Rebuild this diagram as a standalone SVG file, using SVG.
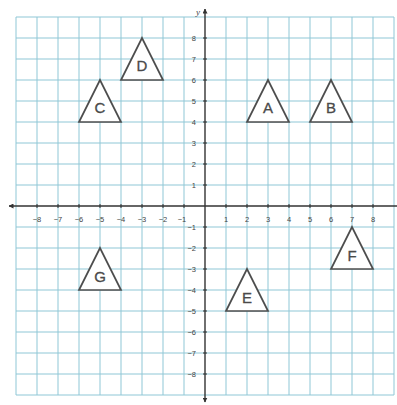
<svg xmlns="http://www.w3.org/2000/svg" width="397" height="405" viewBox="0 0 397 405">
<style>
.grid line{stroke:#8fc7d6;stroke-width:1}
.axis{stroke:#333;stroke-width:1.4;fill:none}
.tick{stroke:#333;stroke-width:1}
.num{font-family:"Liberation Sans",Arial,sans-serif;font-size:7.5px;fill:#444}
.tri{fill:#fff;stroke:#4d4d4d;stroke-width:1.7;stroke-linejoin:miter}
.lbl{font-family:"Liberation Sans",Arial,sans-serif;font-size:15px;fill:#4a4a4a;stroke:#4a4a4a;stroke-width:0.3;text-anchor:middle}
</style>
<defs>
<marker id="ah" viewBox="0 0 10 10" refX="9" refY="5" markerWidth="5" markerHeight="5" orient="auto-start-reverse" markerUnits="userSpaceOnUse">
<path d="M0,0 L10,5 L0,10 z" fill="#333"/>
</marker>
</defs>
<rect width="397" height="405" fill="#fff"/>
<g class="grid">
<line x1="16" y1="17" x2="16" y2="395"/><line x1="37" y1="17" x2="37" y2="395"/><line x1="58" y1="17" x2="58" y2="395"/><line x1="79" y1="17" x2="79" y2="395"/><line x1="100" y1="17" x2="100" y2="395"/><line x1="121" y1="17" x2="121" y2="395"/><line x1="142" y1="17" x2="142" y2="395"/><line x1="163" y1="17" x2="163" y2="395"/><line x1="184" y1="17" x2="184" y2="395"/><line x1="226" y1="17" x2="226" y2="395"/><line x1="247" y1="17" x2="247" y2="395"/><line x1="268" y1="17" x2="268" y2="395"/><line x1="289" y1="17" x2="289" y2="395"/><line x1="310" y1="17" x2="310" y2="395"/><line x1="331" y1="17" x2="331" y2="395"/><line x1="352" y1="17" x2="352" y2="395"/><line x1="373" y1="17" x2="373" y2="395"/><line x1="394" y1="17" x2="394" y2="395"/>
<line x1="16" y1="17" x2="394" y2="17"/><line x1="16" y1="38" x2="394" y2="38"/><line x1="16" y1="59" x2="394" y2="59"/><line x1="16" y1="80" x2="394" y2="80"/><line x1="16" y1="101" x2="394" y2="101"/><line x1="16" y1="122" x2="394" y2="122"/><line x1="16" y1="143" x2="394" y2="143"/><line x1="16" y1="164" x2="394" y2="164"/><line x1="16" y1="185" x2="394" y2="185"/><line x1="16" y1="227" x2="394" y2="227"/><line x1="16" y1="248" x2="394" y2="248"/><line x1="16" y1="269" x2="394" y2="269"/><line x1="16" y1="290" x2="394" y2="290"/><line x1="16" y1="311" x2="394" y2="311"/><line x1="16" y1="332" x2="394" y2="332"/><line x1="16" y1="353" x2="394" y2="353"/><line x1="16" y1="374" x2="394" y2="374"/><line x1="16" y1="395" x2="394" y2="395"/>
</g>
<g id="connectors">
<line class="axis" x1="397" y1="206" x2="9" y2="206" marker-end="url(#ah)"/>
<line class="axis" x1="205" y1="206" x2="205" y2="9" marker-end="url(#ah)"/>
<line class="axis" x1="205" y1="206" x2="205" y2="402" marker-end="url(#ah)"/>
</g>
<g id="ticks" class="tick">
<path d="M37,204v4M58,204v4M79,204v4M100,204v4M121,204v4M142,204v4M163,204v4M184,204v4M226,204v4M247,204v4M268,204v4M289,204v4M310,204v4M331,204v4M352,204v4M373,204v4"/>
<path d="M203,38h4M203,59h4M203,80h4M203,101h4M203,122h4M203,143h4M203,164h4M203,185h4M203,227h4M203,248h4M203,269h4M203,290h4M203,311h4M203,332h4M203,353h4M203,374h4"/>
</g>
<g id="x-labels" class="num" text-anchor="middle">
<text x="37" y="222">−8</text><text x="58" y="222">−7</text><text x="79" y="222">−6</text><text x="100" y="222">−5</text><text x="121" y="222">−4</text><text x="142" y="222">−3</text><text x="163" y="222">−2</text><text x="182" y="222">−1</text>
<text x="226" y="222">1</text><text x="247" y="222">2</text><text x="268" y="222">3</text><text x="289" y="222">4</text><text x="310" y="222">5</text><text x="331" y="222">6</text><text x="352" y="222">7</text><text x="373" y="222">8</text>
</g>
<g id="y-labels" class="num" text-anchor="end">
<text x="196" y="41">8</text><text x="196" y="62">7</text><text x="196" y="83">6</text><text x="196" y="104">5</text><text x="196" y="125">4</text><text x="196" y="146">3</text><text x="196" y="167">2</text><text x="196" y="188">1</text>
<text x="196" y="230">−1</text><text x="196" y="251">−2</text><text x="196" y="272">−3</text><text x="196" y="293">−4</text><text x="196" y="314">−5</text><text x="196" y="335">−6</text><text x="196" y="356">−7</text><text x="196" y="377">−8</text>
</g>
<text x="196" y="15" style="font-family:'Liberation Serif',serif;font-style:italic;font-size:9px;fill:#444">y</text>
<g id="A"><polygon class="tri" points="268,80 247,122 289,122"/><text class="lbl" x="268" y="113">A</text></g>
<g id="B"><polygon class="tri" points="331,80 310,122 352,122"/><text class="lbl" x="331" y="113">B</text></g>
<g id="C"><polygon class="tri" points="100,80 79,122 121,122"/><text class="lbl" x="100" y="113">C</text></g>
<g id="D"><polygon class="tri" points="142,38 121,80 163,80"/><text class="lbl" x="142" y="71">D</text></g>
<g id="E"><polygon class="tri" points="247,269 226,311 268,311"/><text class="lbl" x="247" y="303">E</text></g>
<g id="F"><polygon class="tri" points="352,227 331,269 373,269"/><text class="lbl" x="352" y="261">F</text></g>
<g id="G"><polygon class="tri" points="100,248 79,290 121,290"/><text class="lbl" x="100" y="282">G</text></g>
</svg>
